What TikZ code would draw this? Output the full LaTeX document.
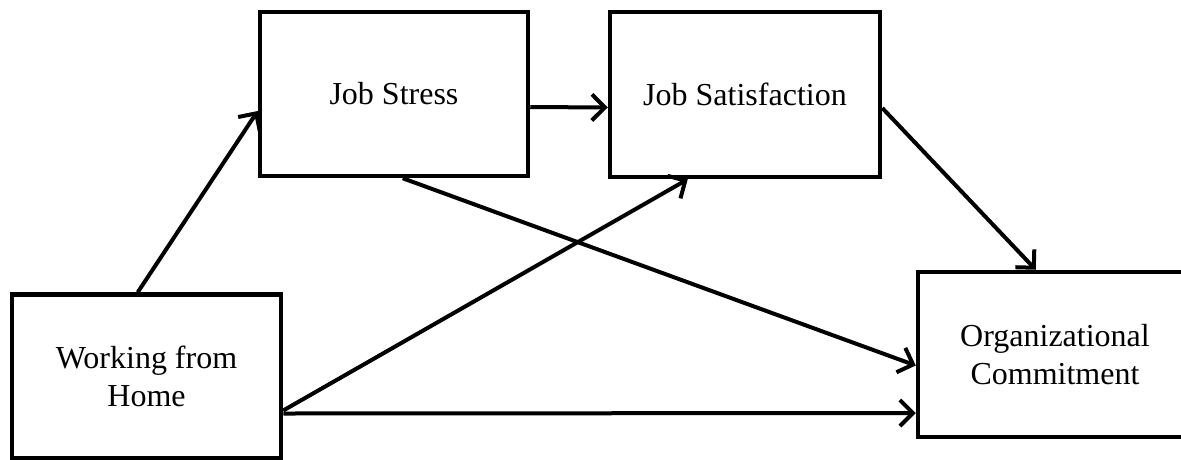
\documentclass[tikz,border=0pt]{standalone}
\usepackage{fontspec}
\setmainfont{Liberation Serif}
\usetikzlibrary{arrows.meta,calc}
\begin{document}
\begin{tikzpicture}[x=1pt,y=-1pt,
  box/.style={draw=black,line width=4.5pt,rectangle,inner sep=0pt,align=center,
    font=\fontsize{32}{38}\selectfont},
  conn/.style={line width=4pt,-{Straight Barb[length=13pt,width=26pt,line width=4pt]}}]
\useasboundingbox (0,0) rectangle (1181,459);
\clip (0,0) rectangle (1181,459);
\node[box,minimum width=268pt,minimum height=164pt] (js) at (394,94) {Job Stress};
\node[box,minimum width=270pt,minimum height=165pt] (jsat) at (745,94.5) {Job Satisfaction};
\node[box,minimum width=269pt,minimum height=164pt] (wfh) at (146.5,376.5) {Working from\\Home};
\node[box,minimum width=274pt,minimum height=165pt] (oc) at (1055,354.5) {Organizational\\Commitment};
\draw[conn] ($(wfh.north west)+(128,0)$) -- ($(js.west)+(0,17)$);
\draw[conn] ($(js.east)+(0,13)$) -- ($(jsat.west)+(0,13)$);
\draw[conn] ($(wfh.east)+(0,34)$) -- ($(jsat.south west)+(80,0)$);
\draw[conn] ($(js.south west)+(145,0)$) -- ($(oc.west)+(0,11)$);
\draw[conn] ($(wfh.east)+(0,37)$) -- ($(oc.west)+(0,58.5)$);
\draw[conn] ($(jsat.east)+(0,13.5)$) -- ($(oc.north west)+(120,0)$);
\end{tikzpicture}
\end{document}
